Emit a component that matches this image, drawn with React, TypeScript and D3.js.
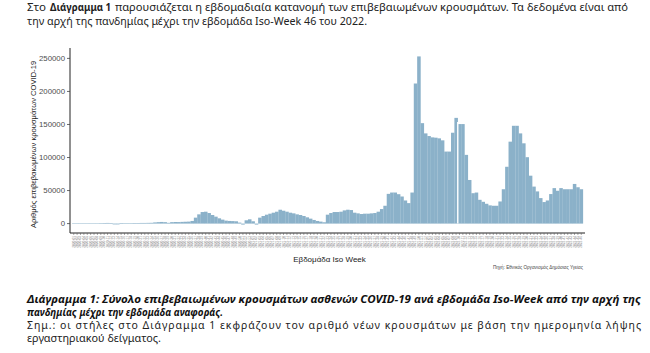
import React from 'react';
import * as d3 from 'd3';

// weekly confirmed COVID-19 cases, by ISO week of sampling
const years = [2020, 2021, 2022];
const weeksInYear = [53, 52, 46];

const cases2020 = [
  700, 700, 700, 700, 700, 700, 700, 700, 800, 900, 1000, 900, -1200, -1200,
  900, 800, 800, 800, 900, 900, 1000, 1000, 1100, 1200, 1800, 2200, 2500, 2200,
  1200, 2200, 2400, 2300, 2600, 2800, 3000, 4000, 9000, 14000, 17500, 18000,
  16000, 13000, 10500, 8000, 6000, 4500, 4000, 3800, 3500, 1500, -1500, 5000, 6500
];
const cases2021 = [
  3500, -1500, 9000, 11500, 13500, 15000, 16500, 18000, 21000, 19500, 18000,
  16500, 15500, 14000, 13000, 11500, 9500, 7500, 5500, 4000, 3000, 2000, 13500,
  16000, 17500, 17500, 18000, 20000, 21000, 20500, 16500, 15500, 14500, 15000,
  15000, 15500, 16000, 18000, 22000, 27000, 45000, 47000, 47000, 44500, 41000,
  35000, 31000, 47000, 212000, 253000, 152000, 136500
];
const cases2022 = [
  132500, 130500, 130000, 129000, 126000, 109000, 109000, 137500, 160000,
  150600, 150600, 104000, 66000, 46000, 47000, 36000, 33000, 30000, 27600, 27000,
  27000, 33500, 52000, 86000, 124000, 148000, 148000, 136500, 121500, 100500,
  72500, 56000, 48700, 38600, 32600, 35000, 44700, 53700, 49700, 53700, 52000,
  52000, 52000, 60000, 55000, 52000
];
const yTicks = [0, 50000, 100000, 150000, 200000, 250000];
const gapWeek = '2022-10';

const weeks: string[] = [];
years.forEach((yr, k) => {
  for (let w = 1; w <= weeksInYear[k]; w++) weeks.push(`${yr}-${String(w).padStart(2, '0')}`);
});
const cases = [...cases2020, ...cases2021, ...cases2022];
const data = weeks.map((wk, i) => ({ week: wk, value: cases[i] }));

const W = 650, H = 353;
const left = 70, right = 585, top = 48, bottom = 233;

export default function App() {
  const vmin = d3.min(cases) as number;
  const vmax = d3.max(cases) as number;
  const pad = (vmax - vmin) * 0.05;
  const y = d3.scaleLinear().domain([vmin - pad, vmax + pad]).range([bottom, top]);
  const x = d3.scaleBand<string>().domain(weeks).range([left, right]).paddingInner(0).paddingOuter(0.6);

  const docFont = "'Noto Sans', 'Open Sans', sans-serif";
  const chartFont = "'Liberation Sans', Arial, sans-serif";
  const fs = 10.5;

  return (
    <div style={{ position: 'absolute', left: 0, top: 0, background: '#fff' }}>
      <svg width={W} height={H} style={{ display: 'block' }}>
        <rect width={W} height={H} fill="#fff" />

        {/* body text above */}
        <g fontFamily={docFont} fontSize={fs} fill="#222">
          <text x={27} y={10.5} textLength={19} lengthAdjust="spacingAndGlyphs">Στο</text>
          <text x={50} y={10.5} fontWeight="bold" textLength={61} lengthAdjust="spacingAndGlyphs">Διάγραμμα 1</text>
          <text x={115} y={10.5} textLength={513} lengthAdjust="spacingAndGlyphs">
            παρουσιάζεται η εβδομαδιαία κατανομή των επιβεβαιωμένων κρουσμάτων. Τα δεδομένα είναι από
          </text>
          <text x={27} y={25} textLength={340} lengthAdjust="spacingAndGlyphs">
            την αρχή της πανδημίας μέχρι την εβδομάδα Iso-Week 46 του 2022.
          </text>
        </g>

        {/* bars */}
        <g>
          {data.map(d => (
            <rect
              key={d.week}
              x={x(d.week)}
              width={x.bandwidth() + 0.15}
              y={y(Math.max(0, d.value))}
              height={Math.abs(y(d.value) - y(0))}
              fill="#8bb1c9"
            />
          ))}
          <line x1={x(gapWeek)} x2={x(gapWeek)} y1={y(0)} y2={y(d3.max(data.filter(d => d.week === gapWeek), d => d.value) as number) - 2} stroke="#fff" strokeWidth={1.4} />
        </g>

        {/* y axis */}
        <line x1={left} x2={left} y1={top} y2={bottom} stroke="#222" strokeWidth={1} />
        {yTicks.map(t => (
          <g key={t}>
            <line x1={left - 3} x2={left} y1={y(t)} y2={y(t)} stroke="#444" strokeWidth={0.8} />
            <text x={left - 5} y={y(t) + 2.8} textAnchor="end" fontFamily={chartFont} fontSize={7.8} fill="#4d4d4d">{t}</text>
          </g>
        ))}
        <text transform={`translate(36,${(top + bottom) / 2 + 4}) rotate(-90)`} textAnchor="middle" fontFamily={chartFont} fontSize={7.6} fill="#222">
          Αριθμός επιβεβαιωμένων κρουσμάτων COVID-19
        </text>

        {/* x axis */}
        <line x1={left} x2={right} y1={bottom} y2={bottom} stroke="#222" strokeWidth={1} />
        {data.map(d => {
          const cx = (x(d.week) as number) + x.bandwidth() / 2;
          return (
            <g key={'t' + d.week}>
              <line x1={cx} x2={cx} y1={bottom} y2={bottom + 2} stroke="#555" strokeWidth={0.5} />
              <text transform={`translate(${cx + 1},${bottom + 3}) rotate(-90)`} textAnchor="end" fontFamily={chartFont} fontSize={3.2} fill="#8a8a8a">{d.week}</text>
            </g>
          );
        })}
        <text x={(left + right) / 2 + 2} y={262} textAnchor="middle" fontFamily={chartFont} fontSize={8} fill="#222">Εβδομάδα Iso Week</text>
        <text x={583} y={269} textAnchor="end" fontFamily={chartFont} fontSize={4.6} fill="#444">Πηγή: Εθνικός Οργανισμός Δημόσιας Υγείας</text>

        {/* caption */}
        <g fontFamily={docFont} fontSize={fs}>
          <text x={27} y={303} fontWeight="bold" fontStyle="italic" fill="#111" textLength={614} lengthAdjust="spacingAndGlyphs">
            Διάγραμμα 1:  Σύνολο επιβεβαιωμένων κρουσμάτων ασθενών COVID-19 ανά εβδομάδα Iso-Week από την αρχή της
          </text>
          <text x={27} y={316} fontWeight="bold" fontStyle="italic" fill="#111" textLength={196} lengthAdjust="spacingAndGlyphs">
            πανδημίας μέχρι την εβδομάδα αναφοράς.
          </text>
          <text x={27} y={329} fill="#222" textLength={614} lengthAdjust="spacing">
            Σημ.:  οι στήλες στο Διάγραμμα 1 εκφράζουν τον αριθμό νέων κρουσμάτων με βάση την ημερομηνία λήψης
          </text>
          <text x={27} y={342} fill="#222" textLength={134} lengthAdjust="spacingAndGlyphs">
            εργαστηριακού δείγματος.
          </text>
        </g>
      </svg>
    </div>
  );
}
